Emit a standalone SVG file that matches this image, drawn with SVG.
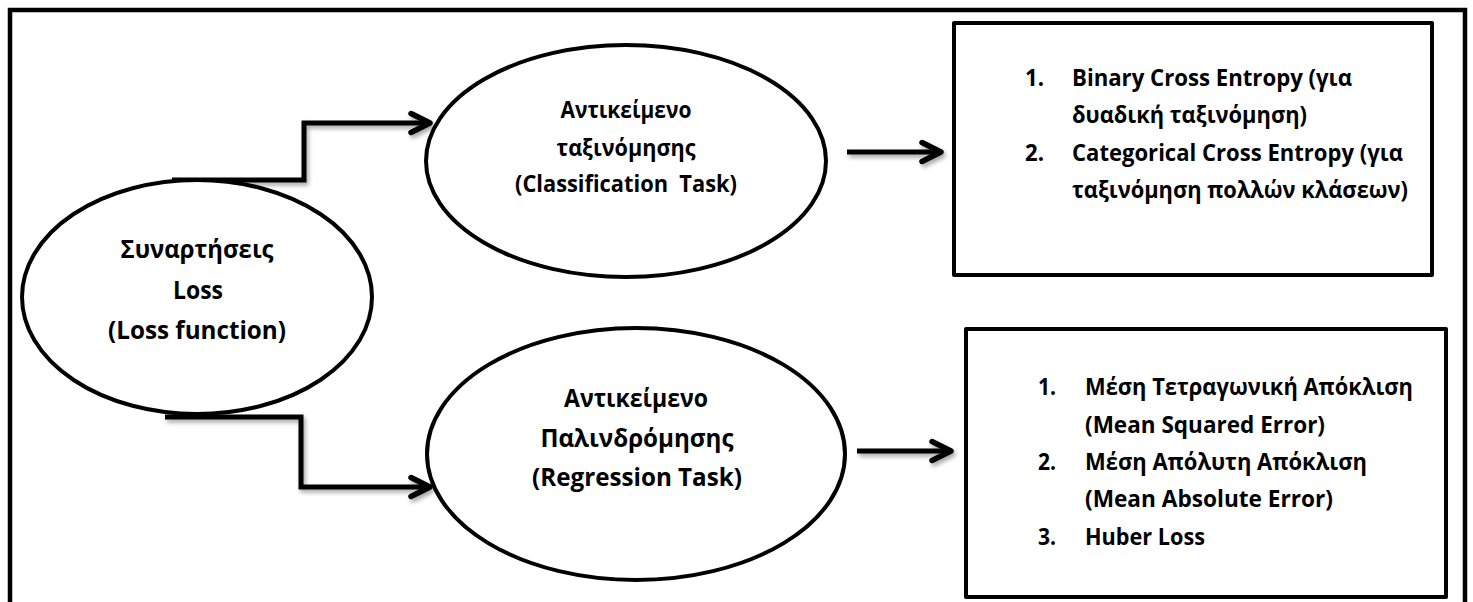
<svg xmlns="http://www.w3.org/2000/svg" width="1473" height="602" viewBox="0 0 1473 602">
  <style>
    .frame { fill: none; stroke: #000; stroke-width: 4.5; }
    .node { fill: #fff; stroke: #000; stroke-width: 4; }
    .box { fill: #fff; stroke: #000; stroke-width: 4; stroke-linejoin: round; }
    .link { fill: none; stroke: #000; stroke-width: 5; stroke-linejoin: miter; }
    .t { font-family: "Open Sans", "Noto Sans", "DejaVu Sans", sans-serif; font-weight: bold; fill: #000; }
    .c { text-anchor: middle; }
    .big { font-size: 25.5px; }
    .mid { font-size: 23.5px; }
  </style>
  <defs>
    <filter id="shadow" x="-10%" y="-30%" width="120%" height="160%">
      <feDropShadow dx="2" dy="3" stdDeviation="2" flood-color="#000" flood-opacity="0.35"/>
    </filter>
    <marker id="chevron" markerUnits="userSpaceOnUse" viewBox="-24 -13 28 26" refX="0" refY="0" markerWidth="28" markerHeight="26" orient="auto">
      <path d="M-19,-9.5 L0,0 L-19,9.5" fill="none" stroke="#000" stroke-width="5.5" stroke-linecap="round" stroke-linejoin="round"/>
    </marker>
  </defs>

  <!-- outer frame, open at the bottom -->
  <rect class="frame" x="10" y="10" width="1455" height="640"/>

  <!-- connectors -->
  <g id="connectors" filter="url(#shadow)">
    <path class="link" d="M172,180 H304 V123 H430" marker-end="url(#chevron)"/>
    <path class="link" d="M165,417 H301 V487 H430" marker-end="url(#chevron)"/>
    <path class="link" d="M847,152 H941" marker-end="url(#chevron)"/>
    <path class="link" d="M857,451 H951" marker-end="url(#chevron)"/>
  </g>

  <!-- root: loss functions -->
  <g id="node-loss">
    <ellipse class="node" cx="197" cy="297" rx="175" ry="117"/>
    <text class="t c big" x="197" y="258" textLength="153" lengthAdjust="spacingAndGlyphs">Συναρτήσεις</text>
    <text class="t c big" x="198" y="299" textLength="50" lengthAdjust="spacingAndGlyphs">Loss</text>
    <text class="t c big" x="197" y="339" textLength="178" lengthAdjust="spacingAndGlyphs">(Loss function)</text>
  </g>

  <!-- classification task -->
  <g id="node-classification">
    <ellipse class="node" cx="626" cy="161" rx="200" ry="116"/>
    <text class="t c mid" x="626" y="118" textLength="131" lengthAdjust="spacingAndGlyphs">Αντικείμενο</text>
    <text class="t c mid" x="626" y="156" textLength="139" lengthAdjust="spacingAndGlyphs">ταξινόμησης</text>
    <text class="t c mid" x="626" y="192" textLength="222" lengthAdjust="spacingAndGlyphs" xml:space="preserve">(Classification  Task)</text>
  </g>

  <!-- regression task -->
  <g id="node-regression">
    <ellipse class="node" cx="636" cy="454" rx="209" ry="126"/>
    <text class="t c big" x="636" y="407" textLength="144" lengthAdjust="spacingAndGlyphs">Αντικείμενο</text>
    <text class="t c big" x="637" y="447" textLength="193" lengthAdjust="spacingAndGlyphs">Παλινδρόμησης</text>
    <text class="t c big" x="637" y="486" textLength="210" lengthAdjust="spacingAndGlyphs">(Regression Task)</text>
  </g>

  <!-- classification losses -->
  <g id="node-classification-losses">
    <rect class="box" x="954" y="23" width="478" height="252"/>
    <text class="t mid" x="1025" y="86" textLength="19" lengthAdjust="spacingAndGlyphs">1.</text>
    <text class="t mid" x="1072" y="86" textLength="280" lengthAdjust="spacingAndGlyphs">Binary Cross Entropy (για</text>
    <text class="t mid" x="1072" y="123" textLength="235" lengthAdjust="spacingAndGlyphs">δυαδική ταξινόμηση)</text>
    <text class="t mid" x="1025" y="161" textLength="19" lengthAdjust="spacingAndGlyphs">2.</text>
    <text class="t mid" x="1072" y="161" textLength="331" lengthAdjust="spacingAndGlyphs">Categorical Cross Entropy (για</text>
    <text class="t mid" x="1072" y="198" textLength="336" lengthAdjust="spacingAndGlyphs">ταξινόμηση πολλών κλάσεων)</text>
  </g>

  <!-- regression losses -->
  <g id="node-regression-losses">
    <rect class="box" x="966" y="329" width="480" height="268"/>
    <text class="t mid" x="1038" y="395" textLength="18" lengthAdjust="spacingAndGlyphs">1.</text>
    <text class="t mid" x="1085" y="395" textLength="328" lengthAdjust="spacingAndGlyphs">Μέση Τετραγωνική Απόκλιση</text>
    <text class="t mid" x="1085" y="433" textLength="240" lengthAdjust="spacingAndGlyphs">(Mean Squared Error)</text>
    <text class="t mid" x="1038" y="470" textLength="18" lengthAdjust="spacingAndGlyphs">2.</text>
    <text class="t mid" x="1085" y="470" textLength="282" lengthAdjust="spacingAndGlyphs">Μέση Απόλυτη Απόκλιση</text>
    <text class="t mid" x="1085" y="507" textLength="248" lengthAdjust="spacingAndGlyphs">(Mean Absolute Error)</text>
    <text class="t mid" x="1038" y="545" textLength="18" lengthAdjust="spacingAndGlyphs">3.</text>
    <text class="t mid" x="1085" y="545" textLength="120" lengthAdjust="spacingAndGlyphs">Huber Loss</text>
  </g>
</svg>
